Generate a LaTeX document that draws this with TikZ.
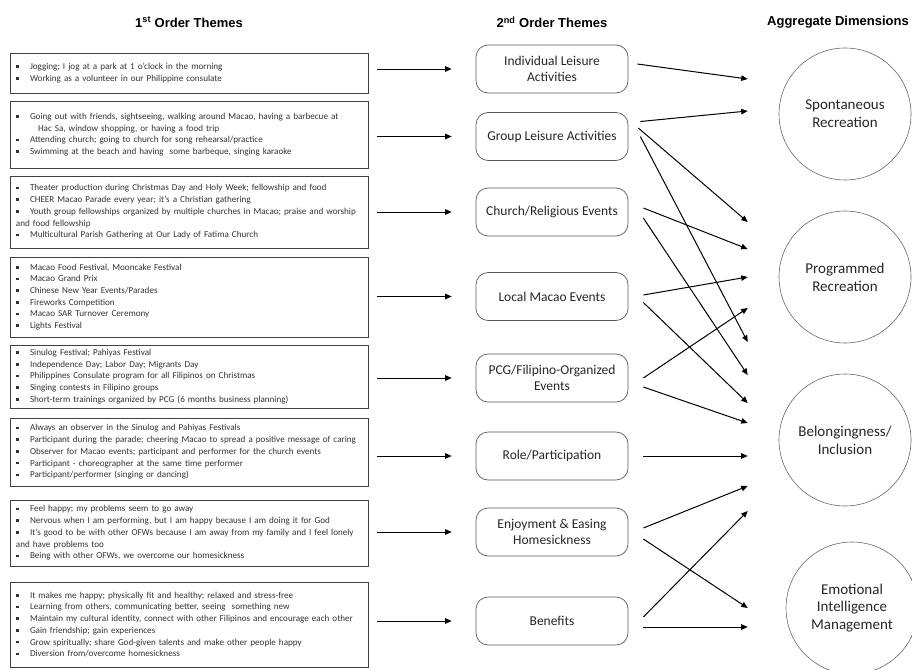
\documentclass[tikz,border=0pt]{standalone}
\usepackage{fontspec}
\setmainfont{Carlito}
\newfontfamily\headfont{Liberation Sans}
\usepackage{tikz}
\usetikzlibrary{arrows.meta}

% small square bullet, text starts after it
\newcommand{\bl}{\makebox[14pt][l]{\rule[1.6pt]{2.6pt}{2.6pt}}}

\tikzset{
  themebox/.style={draw=black!75, line width=0.8pt, text width=346pt, inner xsep=6pt, inner ysep=0pt,
    align=left, text=black!80, font=\fontsize{9.1}{11.7}\selectfont},
  ordbox/.style={draw=black!65, line width=0.7pt, rounded corners=12pt, minimum width=152pt,
    minimum height=48pt, align=center, text=black!85, font=\fontsize{13.5}{16.5}\selectfont},
  dimcirc/.style={draw=black!60, line width=0.6pt, circle, minimum size=132pt, inner sep=0pt,
    align=center, text=black!85, font=\fontsize{15}{17.7}\selectfont},
  head/.style={font=\headfont\bfseries\fontsize{13}{15}\selectfont},
  flow/.style={-{Triangle[length=6.5pt,width=5.5pt]}, line width=1pt, shorten <=9pt, shorten >=24pt},
  link/.style={-{Triangle[length=6.5pt,width=5.5pt]}, line width=1pt},
}

\begin{document}
\begin{tikzpicture}[x=1pt, y=-1pt]
  \useasboundingbox (0,0) rectangle (912,669);

  % column heads
  \node[head] (t1) at (189,22) {1\textsuperscript{st} Order Themes};
  \node[head] (t2) at (552,22) {2\textsuperscript{nd} Order Themes};
  \node[head] (t3) at (838,22) {Aggregate Dimensions};

  % 1st order themes
  \node[themebox, minimum height=40pt] (l1) at (189,73) {%
    \bl Jogging; I jog at a park at 1 o'clock in the morning\\
    \bl Working as a volunteer in our Philippine consulate};
  \node[themebox, minimum height=67pt] (l2) at (189,134.5) {%
    \bl Going out with friends, sightseeing, walking around Macao, having a barbecue at\\
    \hspace*{22pt}Hac Sa, window shopping, or having a food trip\\
    \bl Attending church; going to church for song rehearsal/practice\\
    \bl Swimming at the beach and having\ \ some barbeque, singing karaoke};
  \node[themebox, minimum height=72pt] (l3) at (189,212) {%
    \bl Theater production during Christmas Day and Holy Week; fellowship and food\\
    \bl CHEER Macao Parade every year; it's a Christian gathering\\
    \bl Youth group fellowships organized by multiple churches in Macao; praise and worship\\
    and food fellowship\\
    \bl Multicultural Parish Gathering at Our Lady of Fatima Church};
  \node[themebox, minimum height=80pt] (l4) at (189,297) {%
    \bl Macao Food Festival, Mooncake Festival\\
    \bl Macao Grand Prix\\
    \bl Chinese New Year Events/Parades\\
    \bl Fireworks Competition\\
    \bl Macao SAR Turnover Ceremony\\
    \bl Lights Festival};
  \node[themebox, minimum height=63pt] (l5) at (189,376.5) {%
    \bl Sinulog Festival; Pahiyas Festival\\
    \bl Independence Day; Labor Day; Migrants Day\\
    \bl Philippines Consulate program for all Filipinos on Christmas\\
    \bl Singing contests in Filipino groups\\
    \bl Short-term trainings organized by PCG (6 months business planning)};
  \node[themebox, minimum height=68pt] (l6) at (189,452) {%
    \bl Always an observer in the Sinulog and Pahiyas Festivals\\
    \bl Participant during the parade; cheering Macao to spread a positive message of caring\\
    \bl Observer for Macao events; participant and performer for the church events\\
    \bl Participant - choreographer at the same time performer\\
    \bl Participant/performer (singing or dancing)};
  \node[themebox, minimum height=66pt] (l7) at (189,533) {%
    \bl Feel happy; my problems seem to go away\\
    \bl Nervous when I am performing, but I am happy because I am doing it for God\\
    \bl It's good to be with other OFWs because I am away from my family and I feel lonely\\
    and have problems too\\
    \bl Being with other OFWs, we overcome our homesickness};
  \node[themebox, minimum height=85pt] (l8) at (189,624.5) {%
    \bl It makes me happy; physically fit and healthy; relaxed and stress-free\\
    \bl Learning from others, communicating better, seeing\ \ something new\\
    \bl Maintain my cultural identity, connect with other Filipinos and encourage each other\\
    \bl Gain friendship; gain experiences\\
    \bl Grow spiritually; share God-given talents and make other people happy\\
    \bl Diversion from/overcome homesickness};

  % 2nd order themes
  \node[ordbox] (m1) at (552,69) {Individual Leisure\\Activities};
  \node[ordbox] (m2) at (552,136.5) {Group Leisure Activities};
  \node[ordbox] (m3) at (552,212) {Church/Religious Events};
  \node[ordbox] (m4) at (552,296.5) {Local Macao Events};
  \node[ordbox] (m5) at (552,378) {PCG/Filipino-Organized\\Events};
  \node[ordbox] (m6) at (552,456) {Role/Participation};
  \node[ordbox] (m7) at (552,532) {Enjoyment \& Easing\\Homesickness};
  \node[ordbox] (m8) at (552,621) {Benefits};

  % aggregate dimensions
  \node[dimcirc] (sp) at (845,114) {Spontaneous\\Recreation};
  \node[dimcirc] (pr) at (845,277) {Programmed\\Recreation};
  \node[dimcirc] (bi) at (845,440) {Belongingness/\\Inclusion};
  \node[dimcirc] (ei) at (852,608) {Emotional\\Intelligence\\Management};

  % 1st -> 2nd
  \draw[flow] (l1.east |- m1.west) -- (m1.west);
  \draw[flow] (l2.east |- m2.west) -- (m2.west);
  \draw[flow] (l3.east |- m3.west) -- (m3.west);
  \draw[flow] (l4.east |- m4.west) -- (m4.west);
  \draw[flow] (l5.east |- m5.west) -- (m5.west);
  \draw[flow] (l6.east |- m6.west) -- (m6.west);
  \draw[flow] (l7.east |- m7.west) -- (m7.west);
  \draw[flow] (l8.east |- m8.west) -- (m8.west);

  % 2nd -> aggregate
  \draw[link] ([xshift=9,yshift=5]m1.east) -- ([xshift=-31,yshift=35]sp.west);
  \draw[link] ([xshift=12,yshift=15]m2.east) -- ([xshift=-31,yshift=3]sp.west);
  \draw[link] ([xshift=10,yshift=8.5]m2.east) -- ([xshift=-31,yshift=55]pr.west);
  \draw[link] ([xshift=12,yshift=0]m2.east) -- ([xshift=-31,yshift=98]bi.west);
  \draw[link] ([xshift=15,yshift=4]m3.east) -- ([xshift=-31,yshift=28]pr.west);
  \draw[link] ([xshift=15,yshift=-6]m3.east) -- ([xshift=-31,yshift=65]bi.west);
  \draw[link] ([xshift=15,yshift=1.5]m4.east) -- ([xshift=-31,yshift=0]pr.west);
  \draw[link] ([xshift=15,yshift=-6]m4.east) -- ([xshift=-31,yshift=37]bi.west);
  \draw[link] ([xshift=15,yshift=0]m5.east) -- ([xshift=-31,yshift=-31]pr.west);
  \draw[link] ([xshift=15,yshift=-9]m5.east) -- ([xshift=-31,yshift=17]bi.west);
  \draw[link] ([xshift=15,yshift=0]m6.east) -- ([xshift=-31,yshift=-16]bi.west);
  \draw[link] ([xshift=15,yshift=4]m7.east) -- ([xshift=-31,yshift=-46]bi.west);
  \draw[link] ([xshift=15,yshift=-7]m7.east) -- ([xshift=-38,yshift=0]ei.west);
  \draw[link] ([xshift=15,yshift=4]m8.east) -- ([xshift=-31,yshift=-71]bi.west);
  \draw[link] ([xshift=15,yshift=-6]m8.east) -- ([xshift=-38,yshift=-19]ei.west);
\end{tikzpicture}
\end{document}
